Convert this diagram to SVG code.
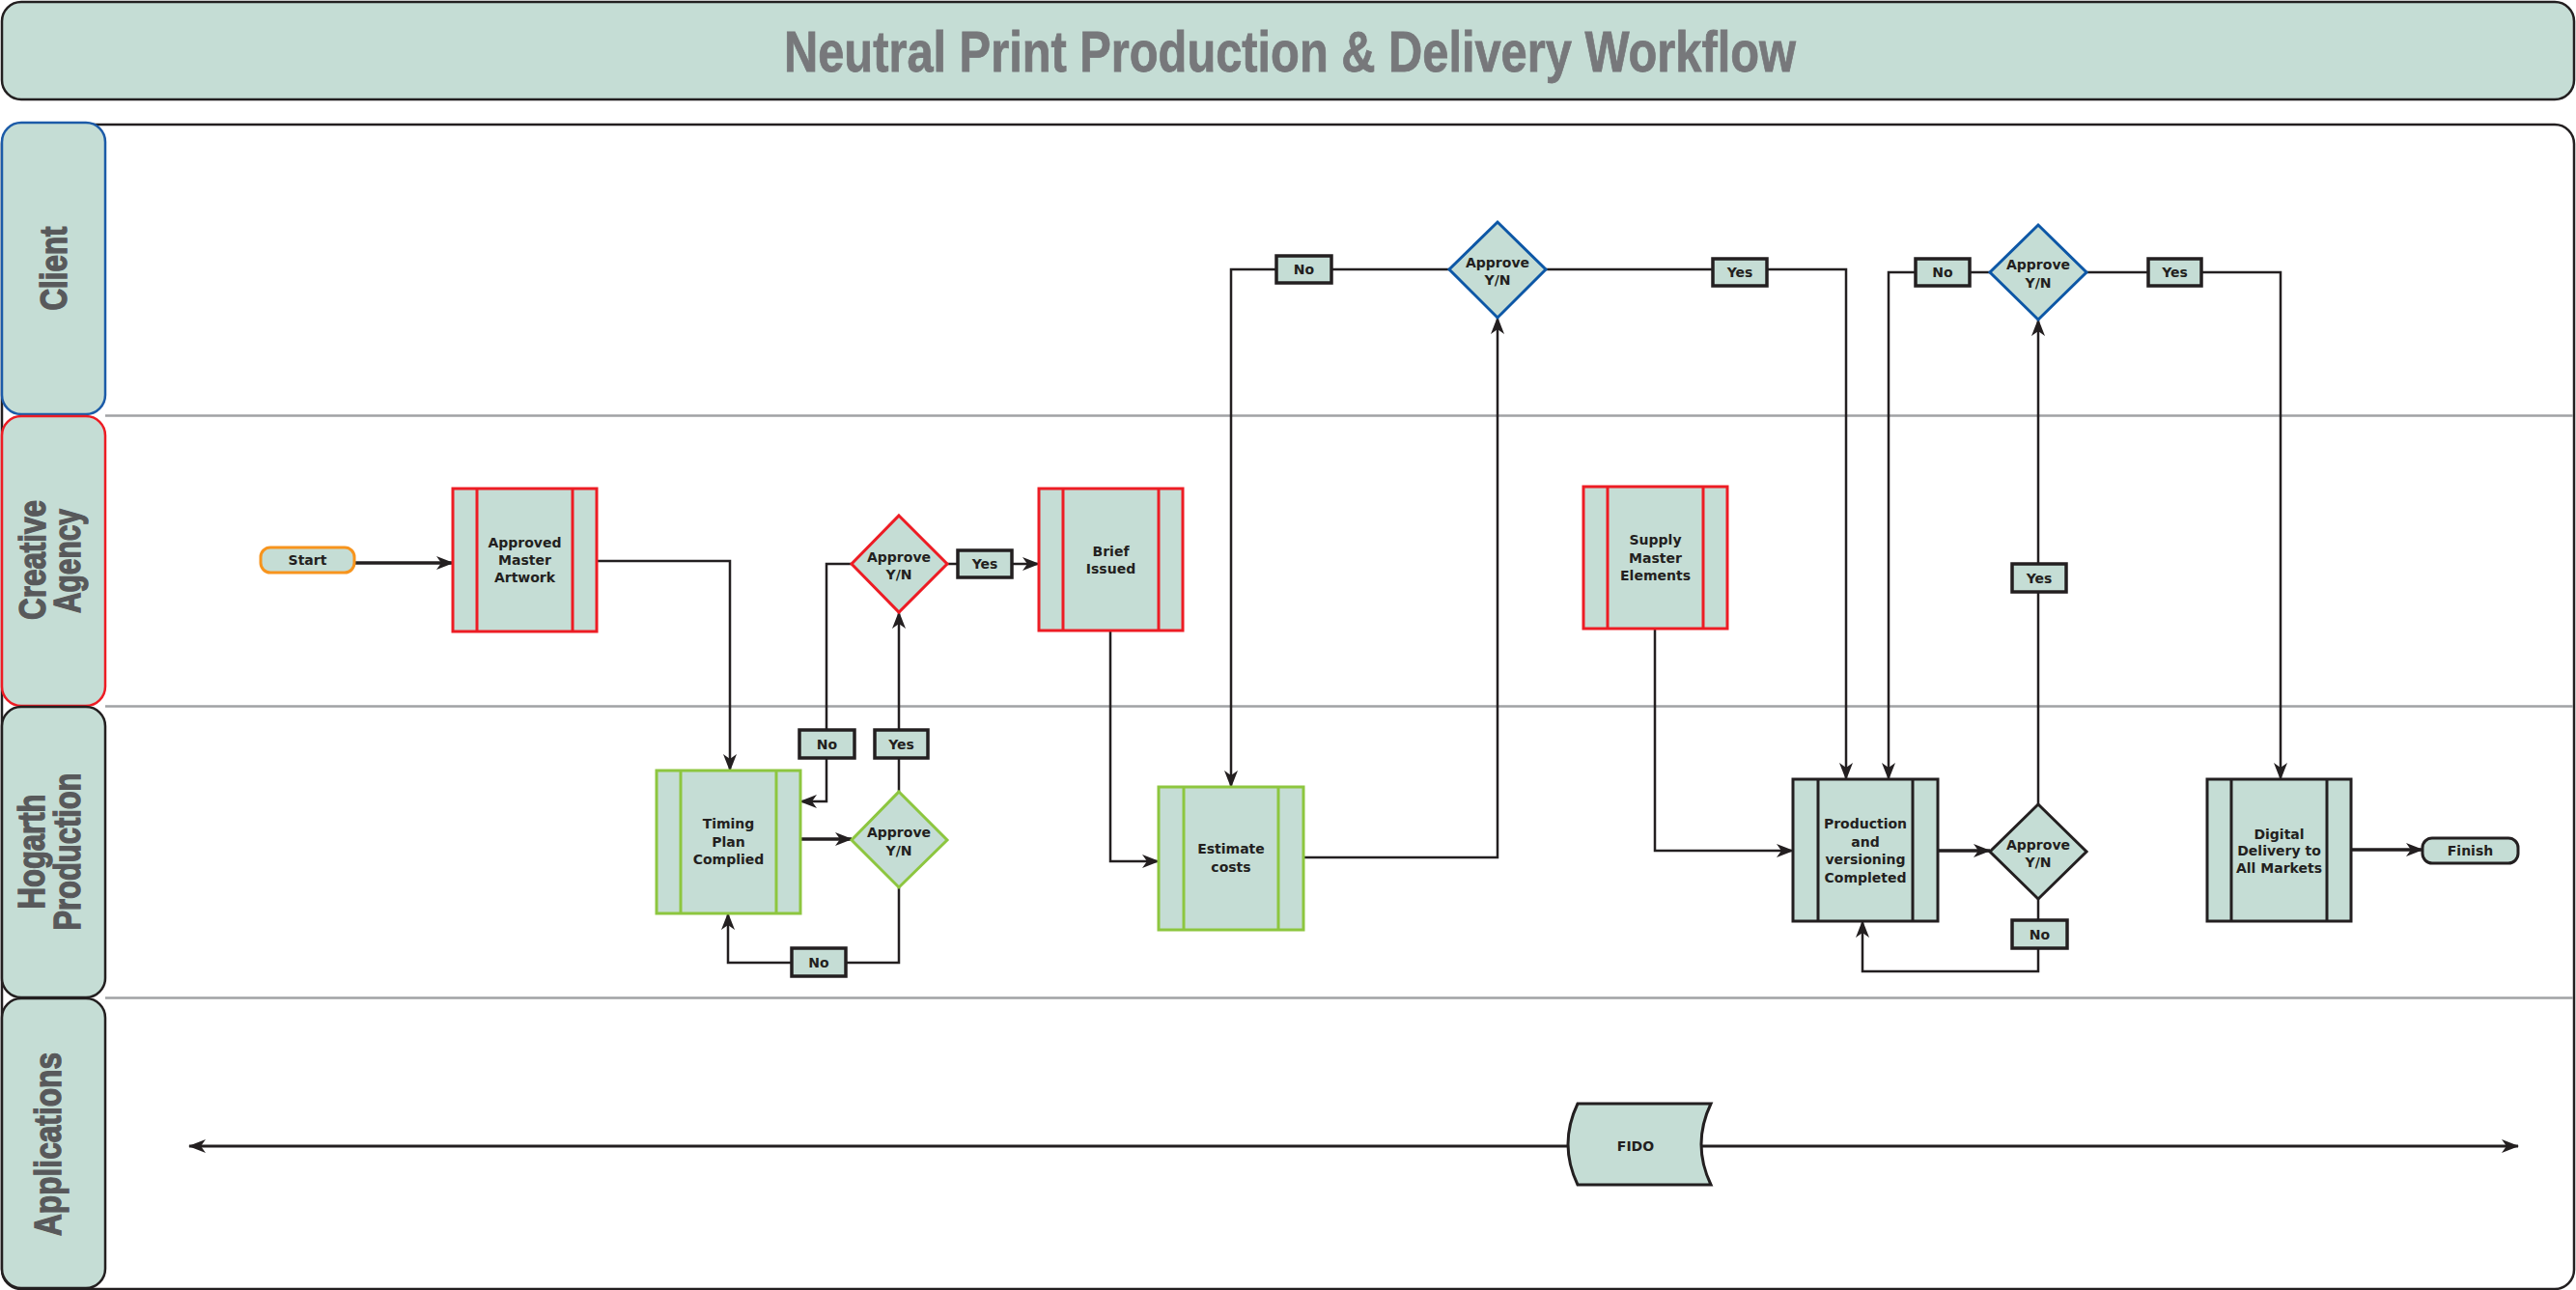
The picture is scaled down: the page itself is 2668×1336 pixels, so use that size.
<svg xmlns="http://www.w3.org/2000/svg" width="2668" height="1336" viewBox="0 0 2668 1336">
<defs>
<style>
.bg{fill:#ffffff}
.mint{fill:#c5ddd5}
.frame{fill:#ffffff;stroke:#231f20;stroke-width:2.5}
.hdr{fill:#c5ddd5;stroke-width:2.5}
.div{stroke:#a0a2a4;stroke-width:2.5;fill:none}
.lane{font-family:"Liberation Sans",Arial,sans-serif;font-weight:bold;font-size:39px;fill:#58595b;stroke:#58595b;stroke-width:1.4;text-anchor:middle}
.title{font-family:"Liberation Sans",Arial,sans-serif;font-weight:bold;font-size:59px;fill:#77787b;stroke:#77787b;stroke-width:0.8;text-anchor:middle}
.t{font-family:"DejaVu Sans",Verdana,sans-serif;font-weight:bold;font-size:14px;fill:#231f20;text-anchor:middle}
.red{fill:#c5ddd5;stroke:#ed1c24;stroke-width:3}
.grn{fill:#c5ddd5;stroke:#8dc63f;stroke-width:3}
.blk{fill:#c5ddd5;stroke:#231f20;stroke-width:3}
.blu{fill:#c5ddd5;stroke:#0d57a6;stroke-width:3}
.org{fill:#c5ddd5;stroke:#f7941d;stroke-width:3}
.lbl{fill:#c5ddd5;stroke:#231f20;stroke-width:3.5}
.c{fill:none;stroke:#231f20;stroke-width:2.5;marker-end:url(#ah)}
.cn{fill:none;stroke:#231f20;stroke-width:2.5}
.ct{fill:none;stroke:#231f20;stroke-width:3.5;marker-end:url(#ah)}
</style>
<marker id="ah" markerUnits="userSpaceOnUse" markerWidth="18" markerHeight="14" refX="17" refY="7" orient="auto-start-reverse" viewBox="0 0 18 14">
<path d="M0,0 L18,7 L0,14 L5,7 z" fill="#231f20"/>
</marker>
</defs>

<g id="title">
<rect x="2" y="2" width="2664" height="101" rx="20" class="mint" stroke="#231f20" stroke-width="2.5"/>
<text class="title" x="1336" y="74" textLength="1048" lengthAdjust="spacingAndGlyphs">Neutral Print Production &amp; Delivery Workflow</text>
</g>

<g id="pool">
<rect x="2" y="129" width="2664" height="1206" rx="20" class="frame"/>
<line x1="109" y1="430.5" x2="2665" y2="430.5" class="div"/>
<line x1="109" y1="731.5" x2="2665" y2="731.5" class="div"/>
<line x1="109" y1="1033.5" x2="2665" y2="1033.5" class="div"/>
</g>

<g id="lane-client">
<rect x="2" y="127" width="107" height="302" rx="20" class="hdr" stroke="#1c5ba8"/>
<text class="lane" transform="translate(69,278) rotate(-90)" textLength="87" lengthAdjust="spacingAndGlyphs">Client</text>
</g>
<g id="lane-agency">
<rect x="2" y="431" width="107" height="300" rx="20" class="hdr" stroke="#ed1c24"/>
<text class="lane" transform="translate(47,580) rotate(-90)" textLength="124" lengthAdjust="spacingAndGlyphs">Creative</text>
<text class="lane" transform="translate(83,581) rotate(-90)" textLength="108" lengthAdjust="spacingAndGlyphs">Agency</text>
</g>
<g id="lane-hogarth">
<rect x="2" y="732" width="107" height="301" rx="20" class="hdr" stroke="#231f20"/>
<text class="lane" transform="translate(46,882) rotate(-90)" textLength="119" lengthAdjust="spacingAndGlyphs">Hogarth</text>
<text class="lane" transform="translate(83,882) rotate(-90)" textLength="163" lengthAdjust="spacingAndGlyphs">Production</text>
</g>
<g id="lane-apps">
<rect x="2" y="1034" width="107" height="300" rx="20" class="hdr" stroke="#231f20"/>
<text class="lane" transform="translate(63,1185) rotate(-90)" textLength="190" lengthAdjust="spacingAndGlyphs">Applications</text>
</g>

<g id="connectors">
<path class="ct" d="M367,583 L469,583"/>
<path class="c" d="M618,581 L756,581 L756,798"/>
<path class="ct" d="M829,869 L882,869"/>
<path class="c" d="M931,820 L931,634"/>
<path class="c" d="M882,584 L856,584 L856,830 L829,830"/>
<path class="c" d="M931,919 L931,997 L754,997 L754,946"/>
<path class="c" d="M981,584 L1076,584"/>
<path class="c" d="M1150,653 L1150,892 L1200,892"/>
<path class="c" d="M1350,888 L1551,888 L1551,329"/>
<path class="c" d="M1501,279 L1275,279 L1275,815"/>
<path class="c" d="M1601,279 L1912,279 L1912,807"/>
<path class="c" d="M1714,651 L1714,881 L1857,881"/>
<path class="ct" d="M2007,881 L2061,881"/>
<path class="c" d="M2111,833 L2111,331"/>
<path class="c" d="M2061,282 L1956,282 L1956,807"/>
<path class="c" d="M2161,282 L2362,282 L2362,807"/>
<path class="ct" d="M2435,880 L2509,880"/>
<path class="c" d="M2111,931 L2111,1006 L1929,1006 L1929,954"/>
<path d="M196,1187 L2608,1187" fill="none" stroke="#231f20" stroke-width="3" marker-start="url(#ah)" marker-end="url(#ah)"/>
</g>

<g id="labels">
<g id="lbl-yes1"><rect x="906" y="756" width="55" height="29" class="lbl"/><text class="t" x="933.5" y="775.5">Yes</text></g>
<g id="lbl-no1"><rect x="828" y="756" width="57" height="29" class="lbl"/><text class="t" x="856.5" y="775.5">No</text></g>
<g id="lbl-no2"><rect x="820" y="982" width="56" height="29" class="lbl"/><text class="t" x="848" y="1001.5">No</text></g>
<g id="lbl-yes2"><rect x="992" y="570" width="56" height="28" class="lbl"/><text class="t" x="1020" y="589">Yes</text></g>
<g id="lbl-no3"><rect x="1322" y="265" width="57" height="28" class="lbl"/><text class="t" x="1350.5" y="284">No</text></g>
<g id="lbl-yes3"><rect x="1774" y="268" width="56" height="28" class="lbl"/><text class="t" x="1802" y="287">Yes</text></g>
<g id="lbl-no4"><rect x="1984" y="268" width="56" height="28" class="lbl"/><text class="t" x="2012" y="287">No</text></g>
<g id="lbl-yes4"><rect x="2225" y="268" width="55" height="28" class="lbl"/><text class="t" x="2252.5" y="287">Yes</text></g>
<g id="lbl-yes5"><rect x="2084" y="584" width="56" height="29" class="lbl"/><text class="t" x="2112" y="603.5">Yes</text></g>
<g id="lbl-no5"><rect x="2084" y="953" width="57" height="29" class="lbl"/><text class="t" x="2112.5" y="972.5">No</text></g>
</g>

<g id="start">
<rect x="270" y="567" width="97" height="26" rx="10" class="org"/>
<text class="t" x="318.5" y="585">Start</text>
</g>

<g id="approved-master-artwork">
<rect x="469" y="506" width="149" height="148" class="red"/>
<line x1="494" y1="506" x2="494" y2="654" stroke="#ed1c24" stroke-width="3"/>
<line x1="593" y1="506" x2="593" y2="654" stroke="#ed1c24" stroke-width="3"/>
<text class="t" x="543.5" y="567">Approved</text>
<text class="t" x="543.5" y="585">Master</text>
<text class="t" x="543.5" y="603">Artwork</text>
</g>

<g id="timing-plan">
<rect x="680" y="798" width="149" height="148" class="grn"/>
<line x1="705" y1="798" x2="705" y2="946" stroke="#8dc63f" stroke-width="3"/>
<line x1="804" y1="798" x2="804" y2="946" stroke="#8dc63f" stroke-width="3"/>
<text class="t" x="754.5" y="858">Timing</text>
<text class="t" x="754.5" y="877">Plan</text>
<text class="t" x="754.5" y="895">Complied</text>
</g>

<g id="approve-green">
<path d="M931,820 L981,870 L931,919 L882,870 Z" class="grn"/>
<text class="t" x="931" y="867">Approve</text>
<text class="t" x="931" y="886">Y/N</text>
</g>

<g id="approve-red">
<path d="M931,534 L981,584 L931,634 L882,584 Z" class="red"/>
<text class="t" x="931" y="582">Approve</text>
<text class="t" x="931" y="600">Y/N</text>
</g>

<g id="brief-issued">
<rect x="1076" y="506" width="149" height="147" class="red"/>
<line x1="1101" y1="506" x2="1101" y2="653" stroke="#ed1c24" stroke-width="3"/>
<line x1="1200" y1="506" x2="1200" y2="653" stroke="#ed1c24" stroke-width="3"/>
<text class="t" x="1150.5" y="576">Brief</text>
<text class="t" x="1150.5" y="594">Issued</text>
</g>

<g id="estimate-costs">
<rect x="1200" y="815" width="150" height="148" class="grn"/>
<line x1="1226" y1="815" x2="1226" y2="963" stroke="#8dc63f" stroke-width="3"/>
<line x1="1324" y1="815" x2="1324" y2="963" stroke="#8dc63f" stroke-width="3"/>
<text class="t" x="1275" y="884">Estimate</text>
<text class="t" x="1275" y="903">costs</text>
</g>

<g id="approve-blue-1">
<path d="M1551,230 L1601,279 L1551,329 L1501,279 Z" class="blu"/>
<text class="t" x="1551" y="277">Approve</text>
<text class="t" x="1551" y="295">Y/N</text>
</g>

<g id="supply-master-elements">
<rect x="1640" y="504" width="149" height="147" class="red"/>
<line x1="1665" y1="504" x2="1665" y2="651" stroke="#ed1c24" stroke-width="3"/>
<line x1="1764" y1="504" x2="1764" y2="651" stroke="#ed1c24" stroke-width="3"/>
<text class="t" x="1714.5" y="564">Supply</text>
<text class="t" x="1714.5" y="583">Master</text>
<text class="t" x="1714.5" y="601">Elements</text>
</g>

<g id="production-versioning">
<rect x="1857" y="807" width="150" height="147" class="blk"/>
<line x1="1883" y1="807" x2="1883" y2="954" stroke="#231f20" stroke-width="3"/>
<line x1="1981" y1="807" x2="1981" y2="954" stroke="#231f20" stroke-width="3"/>
<text class="t" x="1932" y="858">Production</text>
<text class="t" x="1932" y="877">and</text>
<text class="t" x="1932" y="895">versioning</text>
<text class="t" x="1932" y="914">Completed</text>
</g>

<g id="approve-black">
<path d="M2111,833 L2161,882 L2111,931 L2061,882 Z" class="blk"/>
<text class="t" x="2111" y="880">Approve</text>
<text class="t" x="2111" y="898">Y/N</text>
</g>

<g id="approve-blue-2">
<path d="M2111,233 L2161,282 L2111,331 L2061,282 Z" class="blu"/>
<text class="t" x="2111" y="279">Approve</text>
<text class="t" x="2111" y="298">Y/N</text>
</g>

<g id="digital-delivery">
<rect x="2286" y="807" width="149" height="147" class="blk"/>
<line x1="2311" y1="807" x2="2311" y2="954" stroke="#231f20" stroke-width="3"/>
<line x1="2410" y1="807" x2="2410" y2="954" stroke="#231f20" stroke-width="3"/>
<text class="t" x="2360.5" y="869">Digital</text>
<text class="t" x="2360.5" y="886">Delivery to</text>
<text class="t" x="2360.5" y="904">All Markets</text>
</g>

<g id="finish">
<rect x="2509" y="868" width="99" height="26" rx="10" class="blk"/>
<text class="t" x="2558.5" y="886">Finish</text>
</g>

<g id="fido">
<path d="M1634,1143 L1772,1143 Q1752,1185 1772,1227 L1634,1227 Q1614,1185 1634,1143 Z" class="blk"/>
<text class="t" x="1694" y="1192">FIDO</text>
</g>
</svg>
